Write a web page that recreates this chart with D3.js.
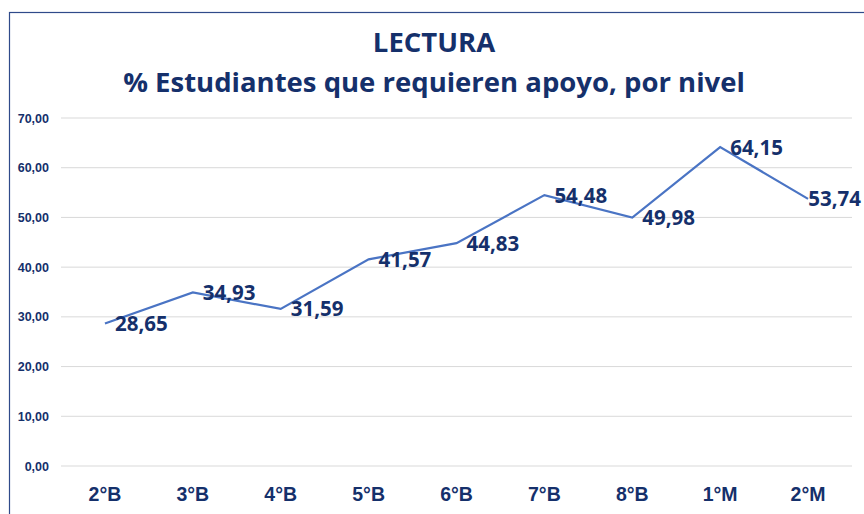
<!DOCTYPE html>
<html><head><meta charset="utf-8">
<script src="https://cdn.jsdelivr.net/npm/d3@7"></script>
<style>
html,body{margin:0;padding:0;background:#fff;}
svg{display:block;font-family:"Open Sans","Noto Sans",sans-serif;}
</style></head>
<body>
<svg id="chart" width="864" height="514"></svg>
<script>
const categories = ["2°B","3°B","4°B","5°B","6°B","7°B","8°B","1°M","2°M"];
const values = [28.65,34.93,31.59,41.57,44.83,54.48,49.98,64.15,53.74];
const yTicks = [0,10,20,30,40,50,60,70];
const titleLines = ["LECTURA","% Estudiantes que requieren apoyo, por nivel"];

const navy = "#15306b";
const svg = d3.select("#chart");
const fmt = v => d3.format(".2f")(v).replace(".", ",");

// chart frame
svg.append("rect").attr("x",9.5).attr("y",12.5).attr("width",880).attr("height",520)
  .attr("fill","none").attr("stroke","#2f4a8a").attr("stroke-width",1.2);

const x = d3.scaleBand().domain(categories).range([61,852]);
const y = d3.scaleLinear().domain([0,70]).range([466,118]);

// gridlines
svg.append("g").selectAll("line").data(yTicks).join("line")
  .attr("x1",61).attr("x2",852).attr("y1",d=>y(d)).attr("y2",d=>y(d))
  .attr("stroke","#d9d9d9").attr("stroke-width",1);

// y axis labels
const yAxis = d3.axisLeft(y).tickValues(yTicks).tickFormat(fmt).tickSize(0).tickPadding(0);
const gy = svg.append("g").attr("transform","translate(49,0)").call(yAxis);
gy.select(".domain").remove();
gy.selectAll("text").attr("fill",navy).attr("font-size",12.5).attr("font-weight","bold");

// x axis labels
const xAxis = d3.axisBottom(x).tickSize(0).tickPadding(0);
const gx = svg.append("g").attr("transform","translate(0,487)").call(xAxis);
gx.select(".domain").remove();
gx.selectAll("text").attr("fill",navy).attr("font-size",19.5).attr("font-weight","bold");

// line
const cx = i => x(categories[i]) + x.bandwidth()/2;
const line = d3.line().x((d,i)=>cx(i)).y(d=>y(d));
svg.append("path").datum(values).attr("d",line).attr("fill","none")
  .attr("stroke","#4a74c4").attr("stroke-width",2.2).attr("stroke-linejoin","miter");

// data labels
svg.append("g").selectAll("text").data(values).join("text")
  .attr("y",d=>y(d)+2)
  .attr("dominant-baseline","middle")
  .attr("fill",navy).attr("font-size",20.5).attr("font-weight","bold")
  .text(fmt)
  .attr("x",function(d,i){
    const w = this.getComputedTextLength();
    return Math.min(cx(i)+10, 861 - w);
  });

// title
svg.append("g").selectAll("text").data(titleLines).join("text")
  .attr("x",434).attr("y",(d,i)=>[52,92][i])
  .attr("text-anchor","middle").attr("fill",navy)
  .attr("font-size",27.5).attr("font-weight","bold").text(d=>d);
</script>
</body></html>
